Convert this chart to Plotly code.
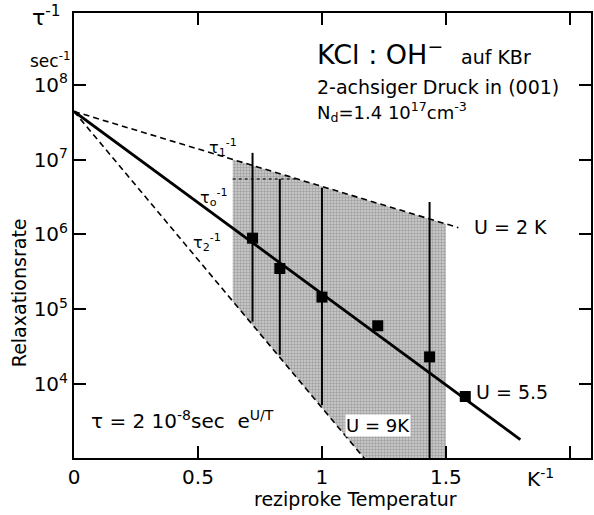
import plotly.graph_objects as go

# ---- data ----
recip_T = [0.72, 0.83, 1.0, 1.225, 1.434, 1.578]
rate = [8.9e5, 3.5e5, 1.45e5, 6.0e4, 2.3e4, 6.8e3]

bar_x = [0.72, 0.83, 1.0, 1.434]
bar_hi = [1.23e7, 5.5e6, 4.2e6, 2.7e6]
bar_lo = [6.8e4, 2.45e4, 5.2e3, 1.0e3]

tau0_x = [0.0, 1.8]
tau0_y = [4.4e7, 1.8e3]
tau1_x = [0.0, 1.55]
tau1_y = [4.4e7, 1.23e6]
tau2_x = [0.0, 1.172]
tau2_y = [4.4e7, 1.0e3]

shade_x = [0.64, 1.5, 1.5, 1.172, 0.64]
shade_y = [1.0e7, 1.38e6, 1.0e3, 1.0e3, 1.28e5]

dotted_x = [0.64, 0.9]
dotted_y = [5.5e6, 5.5e6]

x_ticks = [0, 0.5, 1, 1.5, 2]
x_ticklabels = ["0", "0.5", "1", "1.5", ""]
y_ticks = [1e4, 1e5, 1e6, 1e7, 1e8]
y_ticklabels = ["10<sup>4</sup>", "10<sup>5</sup>", "10<sup>6</sup>", "10<sup>7</sup>", "10<sup>8</sup>"]

FONT = "DejaVu Sans"
W, H = 594, 515
L, R, T, B = 74, 593, 13, 458


def P(px, py):
    return (px - L) / (R - L), (B - py) / (B - T)


fig = go.Figure()

# shaded region
fig.add_trace(go.Scatter(
    x=shade_x, y=shade_y, mode="lines", fill="toself",
    line=dict(width=0, color="rgba(0,0,0,0)"),
    fillcolor="#bdbdbd",
    fillpattern=dict(shape=".", fgcolor="#707070", bgcolor="#d0d0d0", size=3, solidity=0.5),
    hoverinfo="skip", showlegend=False))

fig.add_trace(go.Scatter(x=dotted_x, y=dotted_y, mode="lines",
                         line=dict(color="#333", width=1.5, dash="dot"), showlegend=False))

# tau1, tau2 dashed
for xs, ys in [(tau1_x, tau1_y), (tau2_x, tau2_y)]:
    fig.add_trace(go.Scatter(x=xs, y=ys, mode="lines",
                             line=dict(color="black", width=1.6, dash="6px,4px"), showlegend=False))

# vertical bars
vx, vy = [], []
for x, lo, hi in zip(bar_x, bar_lo, bar_hi):
    vx += [x, x, None]
    vy += [lo, hi, None]
fig.add_trace(go.Scatter(x=vx, y=vy, mode="lines", line=dict(color="black", width=2), showlegend=False))

# tau0 solid
fig.add_trace(go.Scatter(x=tau0_x, y=tau0_y, mode="lines",
                         line=dict(color="black", width=2.8), showlegend=False))

# data squares
fig.add_trace(go.Scatter(x=recip_T, y=rate, mode="markers",
                         marker=dict(symbol="square", size=11, color="black"), showlegend=False))

ann = []


def A(text, px, py, size=17, xanchor="center", yanchor="middle", bg=None):
    x, y = P(px, py)
    d = dict(text=text, x=x, y=y, xref="paper", yref="paper", showarrow=False,
             xanchor=xanchor, yanchor=yanchor, borderpad=0,
             font=dict(family=FONT, size=size, color="black"))
    if bg:
        d["bgcolor"] = bg
    ann.append(d)


A("τ<sup>-1</sup>", 46, 16, size=22)
A("sec<sup>-1</sup>", 50, 60, size=17)
A("K<sup>-1</sup>", 542, 478, size=20)
A("reziproke Temperatur", 357, 499, size=19)
A("Relaxationsrate", 19, 293, size=19)
ann[-1]["textangle"] = -90
A("KCl : OH<sup>−</sup>", 317, 52, size=27, xanchor="left")
A("auf KBr", 461, 57, size=19, xanchor="left")
A("2-achsiger Druck in (001)", 317, 87, size=19, xanchor="left")
A("N<sub>d</sub>=1.4 10<sup>17</sup>cm<sup>-3</sup>", 317, 112, size=18, xanchor="left")
A("τ = 2 10<sup>-8</sup>sec  e<sup>U/T</sup>", 90, 420, size=20, xanchor="left")
A("U = 2 K", 512, 227, size=19)
A("U = 5.5", 514, 392, size=19)
A("U = 9K", 379, 425, size=18, bg="white")
A("τ<sub>1</sub><sup>-1</sup>", 224, 147, size=16)
A("τ<sub>o</sub><sup>-1</sup>", 215, 197, size=16)
A("τ<sub>2</sub><sup>-1</sup>", 208, 242, size=16)

fig.update_layout(
    width=W, height=H,
    margin=dict(l=L, r=W - R, t=T, b=H - B, pad=0),
    paper_bgcolor="white", plot_bgcolor="white",
    showlegend=False,
    annotations=ann,
    xaxis=dict(range=[0, 2.085], tickvals=x_ticks, ticktext=x_ticklabels,
               ticks="inside", ticklen=12, tickwidth=2, tickcolor="black",
               showline=True, linewidth=2, linecolor="black", mirror="ticks",
               showgrid=False, zeroline=False,
               tickfont=dict(family=FONT, size=20, color="black"), ticklabelstandoff=0),
    yaxis=dict(type="log", range=[3.01, 8.96], tickvals=y_ticks, ticktext=y_ticklabels,
               ticks="inside", ticklen=12, tickwidth=2, tickcolor="black",
               showline=True, linewidth=2, linecolor="black", mirror="ticks",
               showgrid=False, zeroline=False,
               tickfont=dict(family=FONT, size=20, color="black"), ticklabelstandoff=0),
)

fig.write_html("out.html", config={"displayModeBar": False},
               post_script="document.body.style.margin='0';document.body.style.overflow='hidden';")
